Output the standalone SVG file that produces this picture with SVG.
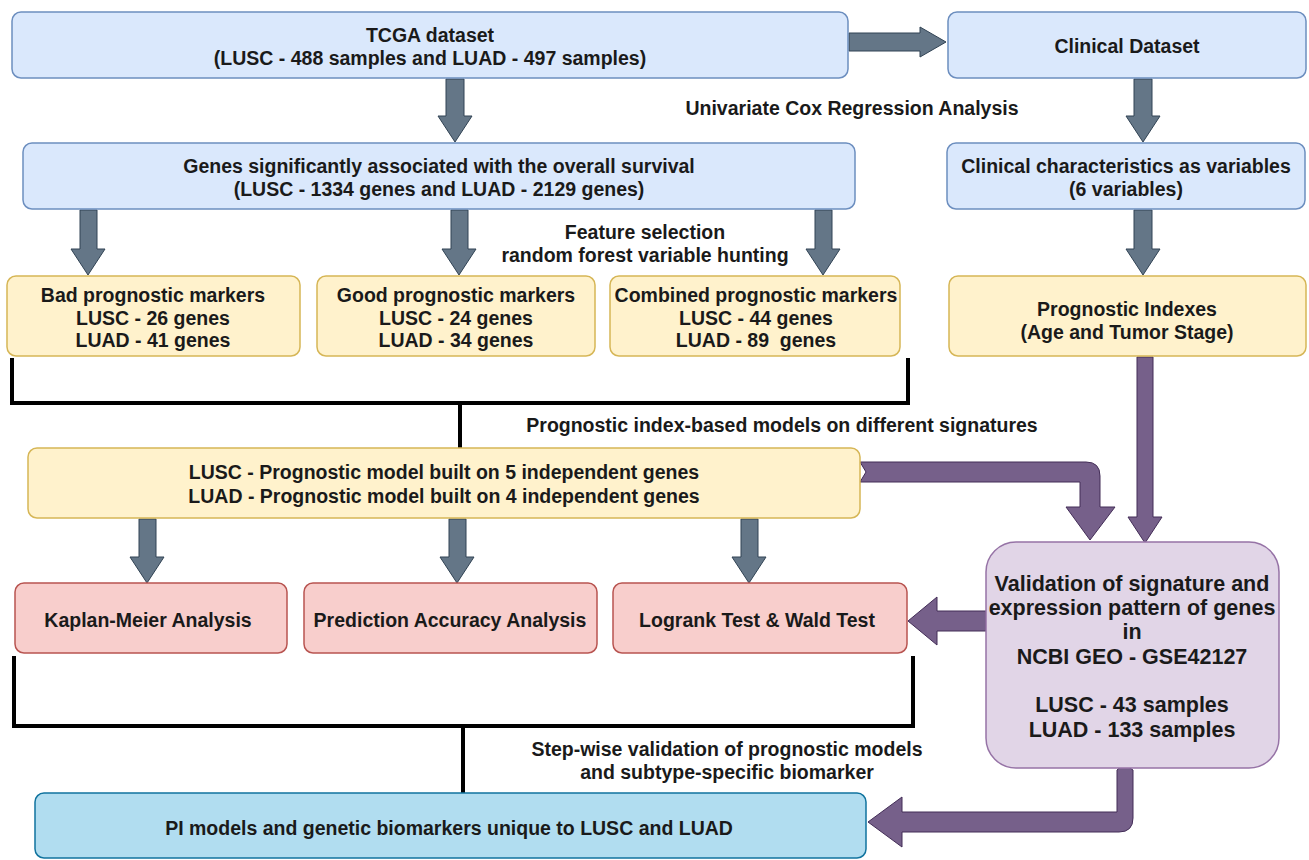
<svg xmlns="http://www.w3.org/2000/svg" width="1309" height="860" viewBox="0 0 1309 860">
<style>
.blue{fill:#dae8fc;stroke:#6c8ebf;stroke-width:1.5}
.yel{fill:#fff2cc;stroke:#d6b656;stroke-width:1.5}
.red{fill:#f8cecc;stroke:#b85450;stroke-width:1.5}
.pur{fill:#e1d5e7;stroke:#9673a6;stroke-width:1.5}
.cyan{fill:#b1ddf0;stroke:#10739e;stroke-width:1.5}
.ga{fill:#647687;stroke:#314354;stroke-width:1}
.pa{fill:#76608a;stroke:#432d57;stroke-width:1}
.br{fill:none;stroke:#000;stroke-width:4}
text{font-family:"Liberation Sans",Arial,sans-serif;font-weight:bold;font-size:19.5px;fill:#1a1a1a;text-anchor:middle}
.v{font-size:21.5px}
</style>
<rect width="1309" height="860" fill="#fff"/>
<g id="connectors">
<polygon class="ga" points="849,33 920,33 920,27 946,42 920,57 920,51 849,51"/>
<polygon class="ga" points="446,79 464,79 464,116 472,116 455,142 438,116 446,116"/>
<polygon class="ga" points="1134,79 1152,79 1152,116 1160,116 1143,142 1126,116 1134,116"/>
<polygon class="ga" points="80,210 97,210 97,249 105,249 88,275 71,249 80,249"/>
<polygon class="ga" points="451,210 468,210 468,249 476,249 459,275 442,249 451,249"/>
<polygon class="ga" points="815,210 832,210 832,249 840,249 823,275 806,249 815,249"/>
<polygon class="ga" points="1134,210 1152,210 1152,249 1160,249 1143,275 1126,249 1134,249"/>
<polygon class="ga" points="139,519 156,519 156,557 164,557 147,583 130,557 139,557"/>
<polygon class="ga" points="449,519 466,519 466,557 474,557 457,583 440,557 449,557"/>
<polygon class="ga" points="741,519 758,519 758,557 766,557 749,583 732,557 741,557"/>
<path class="br" d="M12,358 V403 H908 V358 M460,403 V448"/>
<path class="br" d="M14,656 V726 H913 V656 M463,726 V793"/>
<polygon class="pa" points="1137,357 1153,357 1153,517 1162,517 1145,543 1128,517 1137,517"/>
<path class="pa" d="M860,462 H1086 Q1100,462 1100,476 V507 H1115 L1090,540 L1066,507 H1080 V482 H860 L866,472 Z"/>
<polygon class="pa" points="986,611 937,611 937,597 908,621 937,645 937,631 986,631"/>
<path class="pa" d="M1117,770 L1124,764 L1133,770 V818 Q1133,832 1119,832 H902 V847 L868,822 L902,797 V812 H1117 Z"/>
</g>
<g id="tcga"><rect class="blue" x="12" y="12" width="836" height="66" rx="9"/><text x="430" y="42">TCGA dataset</text><text x="430" y="65">(LUSC - 488 samples and LUAD - 497 samples)</text></g>
<g id="clinical"><rect class="blue" x="948" y="12" width="358" height="66" rx="9"/><text x="1127" y="53">Clinical Dataset</text></g>
<text x="852" y="115">Univariate Cox Regression Analysis</text>
<g id="genes"><rect class="blue" x="23" y="143" width="832" height="66" rx="9"/><text x="439" y="173">Genes significantly associated with the overall survival</text><text x="439" y="196">(LUSC - 1334 genes and LUAD - 2129 genes)</text></g>
<g id="clinchar"><rect class="blue" x="947" y="143" width="358" height="66" rx="9"/><text x="1126" y="173">Clinical characteristics as variables</text><text x="1126" y="196">(6 variables)</text></g>
<text x="645" y="239">Feature selection</text>
<text x="645" y="262">random forest variable hunting</text>
<g id="bad"><rect class="yel" x="7" y="276" width="293" height="80" rx="9"/><text x="153" y="302">Bad prognostic markers</text><text x="153" y="325">LUSC - 26 genes</text><text x="153" y="347">LUAD - 41 genes</text></g>
<g id="good"><rect class="yel" x="317" y="276" width="278" height="80" rx="9"/><text x="456" y="302">Good prognostic markers</text><text x="456" y="325">LUSC - 24 genes</text><text x="456" y="347">LUAD - 34 genes</text></g>
<g id="combined"><rect class="yel" x="610" y="276" width="290" height="80" rx="9"/><text x="756" y="302">Combined prognostic markers</text><text x="756" y="325">LUSC - 44 genes</text><text x="756" y="347" xml:space="preserve">LUAD - 89  genes</text></g>
<g id="pi"><rect class="yel" x="949" y="276" width="357" height="80" rx="9"/><text x="1127" y="316">Prognostic Indexes</text><text x="1127" y="339">(Age and Tumor Stage)</text></g>
<text x="782" y="432">Prognostic index-based models on different signatures</text>
<g id="model"><rect class="yel" x="28" y="448" width="832" height="70" rx="9"/><text x="444" y="479">LUSC - Prognostic model built on 5 independent genes</text><text x="444" y="503">LUAD - Prognostic model built on 4 independent genes</text></g>
<g id="validation"><rect class="pur" x="986" y="542" width="293" height="226" rx="30"/><text class="v" x="1132" y="591">Validation of signature and</text><text class="v" x="1132" y="615">expression pattern of genes</text><text class="v" x="1132" y="639">in</text><text class="v" x="1132" y="664">NCBI GEO - GSE42127</text><text class="v" x="1132" y="712">LUSC - 43 samples</text><text class="v" x="1132" y="737">LUAD - 133 samples</text></g>
<g id="kaplan"><rect class="red" x="15" y="583" width="272" height="70" rx="9"/><text x="148" y="627">Kaplan-Meier Analysis</text></g>
<g id="prediction"><rect class="red" x="304" y="583" width="293" height="70" rx="9"/><text x="450" y="627">Prediction Accuracy Analysis</text></g>
<g id="logrank"><rect class="red" x="613" y="583" width="294" height="70" rx="9"/><text x="757" y="627">Logrank Test &amp; Wald Test</text></g>
<text x="727" y="756">Step-wise validation of prognostic models</text>
<text x="727" y="779">and subtype-specific biomarker</text>
<g id="final"><rect class="cyan" x="35" y="793" width="831" height="65" rx="9"/><text x="449" y="835">PI models and genetic biomarkers unique to LUSC and LUAD</text></g>
</svg>
